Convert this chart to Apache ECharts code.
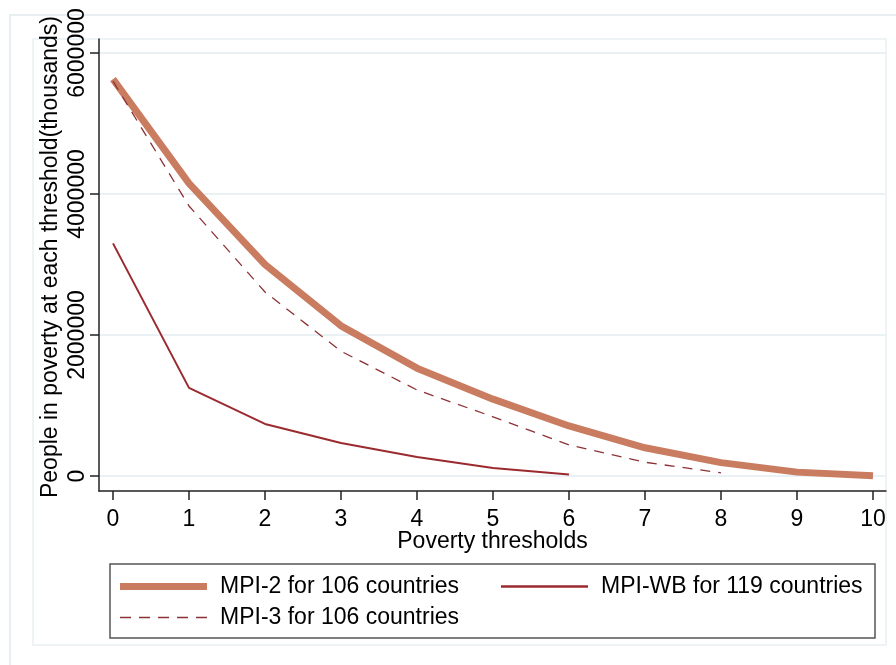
<!DOCTYPE html>
<html>
<head>
<meta charset="utf-8">
<script src="https://cdn.jsdelivr.net/npm/echarts@6/dist/echarts.min.js"></script>
<style>
  html, body { margin: 0; padding: 0; background: #fff; }
  #chart { width: 896px; height: 665px; }
</style>
</head>
<body>
<div id="chart"></div>
<script>
// Poverty thresholds on the x axis
const thresholds = [0, 1, 2, 3, 4, 5, 6, 7, 8, 9, 10];
// People in poverty at each threshold (thousands)
const mpi2 = [5630000, 4150000, 3000000, 2130000, 1530000, 1090000, 710000, 400000, 190000, 55000, 3000];
const mpi3 = [5600000, 3830000, 2610000, 1770000, 1220000, 840000, 440000, 195000, 45000];
const mpiWB = [3300000, 1250000, 738000, 468000, 270000, 113000, 20000];
const yTicks = [0, 2000000, 4000000, 6000000];

const names = ['MPI-2 for 106 countries', 'MPI-WB for 119 countries', 'MPI-3 for 106 countries'];
const FONT = 'Liberation Sans, Arial, sans-serif';
const FS = 23;
const pairs = (vals) => vals.map((v, i) => [thresholds[i], v]);

const chart = echarts.init(document.getElementById('chart'), null, { renderer: 'canvas' });

const legendBase = {
  orient: 'horizontal',
  padding: 0,
  itemWidth: 87,
  selectedMode: false,
  symbolKeepAspect: false,
  textStyle: { fontFamily: FONT, fontSize: FS, color: '#000', padding: [0, 0, 0, 8] }
};
// five short dashes for the dashed-line key
const dashIcon = 'path://M0 0h11v2h-11z M19 0h11v2h-11z M38 0h11v2h-11z M57 0h11v2h-11z M76 0h11v2h-11z';

chart.setOption({
  animation: false,
  backgroundColor: '#fff',
  grid: { left: 99, top: 39, right: 10, bottom: 174, containLabel: false },
  graphic: [
    { type: 'rect', shape: { x: 10, y: 15, width: 900, height: 700 }, style: { fill: 'none', stroke: '#e8eff2', lineWidth: 2 }, silent: true, z: -1 },
    { type: 'rect', shape: { x: 33, y: 39, width: 853, height: 606 }, style: { fill: 'none', stroke: '#eef3f5', lineWidth: 2 }, silent: true, z: -1 },
    { type: 'rect', shape: { x: 110, y: 564, width: 765, height: 74 }, style: { fill: '#fff', stroke: '#555', lineWidth: 1.5 }, silent: true, z: 0 }
  ],
  legend: [
    Object.assign({}, legendBase, { data: [names[0]], left: 120, top: 575, icon: 'rect', itemHeight: 7 }),
    Object.assign({}, legendBase, { data: [names[1]], left: 501, top: 575, icon: 'rect', itemHeight: 2.5 }),
    Object.assign({}, legendBase, { data: [names[2]], left: 120, top: 606, icon: dashIcon, itemHeight: 1.5 })
  ],
  xAxis: {
    type: 'value',
    min: -0.1842,
    max: 10.171,
    name: 'Poverty thresholds',
    nameLocation: 'middle',
    nameGap: 39,
    nameMoveOverlap: false,
    nameTextStyle: { fontFamily: FONT, fontSize: FS, color: '#000' },
    axisLine: { show: true, onZero: false, lineStyle: { color: '#222', width: 1.5 } },
    axisTick: { show: true, length: 9, lineStyle: { color: '#222', width: 1.5 }, customValues: thresholds },
    axisLabel: { fontFamily: FONT, fontSize: FS, color: '#000', margin: 17, customValues: thresholds },
    splitLine: { show: false }
  },
  yAxis: {
    type: 'value',
    min: -212766,
    max: 6198582,
    name: 'People in poverty at each threshold(thousands)',
    nameLocation: 'middle',
    nameGap: 37,
    nameRotate: 90,
    nameMoveOverlap: false,
    nameTextStyle: { fontFamily: FONT, fontSize: FS, color: '#000', padding: [0, 0, 0, 16] },
    axisLine: { show: true, onZero: false, lineStyle: { color: '#222', width: 1.5 } },
    axisTick: { show: true, length: 9, lineStyle: { color: '#222', width: 1.5 }, customValues: yTicks },
    axisLabel: {
      fontFamily: FONT, fontSize: FS, color: '#000', margin: 10, rotate: 90,
      customValues: yTicks,
      formatter: (v) => String(v)
    },
    splitLine: { show: true, lineStyle: { color: '#eaf1f4', width: 2 } }
  },
  series: [
    {
      name: names[0], type: 'line', data: pairs(mpi2), symbol: 'none', z: 3,
      lineStyle: { color: '#c97c60', width: 7, join: 'round' },
      itemStyle: { color: '#c97c60' }
    },
    {
      name: names[1], type: 'line', data: pairs(mpiWB), symbol: 'none', z: 4,
      lineStyle: { color: '#9b2a2f', width: 2 },
      itemStyle: { color: '#9b2a2f' }
    },
    {
      name: names[2], type: 'line', data: pairs(mpi3), symbol: 'none', z: 4,
      lineStyle: { color: '#8c3236', width: 1.3, type: [10, 8] },
      itemStyle: { color: '#8c3236' }
    }
  ]
});
</script>
</body>
</html>
